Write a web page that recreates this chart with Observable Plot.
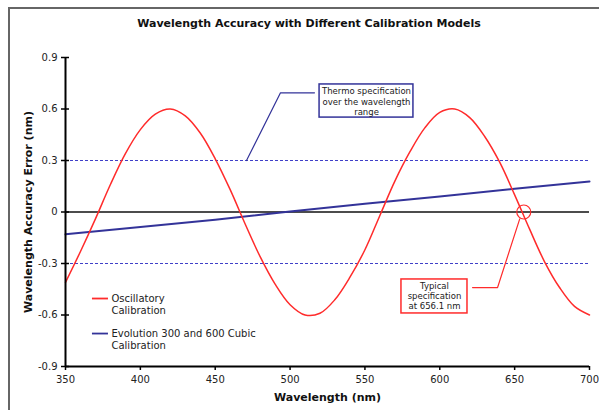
<!DOCTYPE html>
<html>
<head>
<meta charset="utf-8">
<script src="https://cdn.jsdelivr.net/npm/d3@7"></script>
<script src="https://cdn.jsdelivr.net/npm/@observablehq/plot@0.6"></script>
<style>
  html, body { margin: 0; padding: 0; background: #fff; }
  #wrap { position: relative; width: 599px; height: 410px; overflow: hidden; }
  #frame { position: absolute; left: 8px; top: 7px; width: 620px; height: 420px;
           border-top: 2px solid #666; border-left: 2px solid #666; pointer-events: none; }
</style>
</head>
<body>
<div id="wrap"><div id="chart"></div><div id="frame"></div></div>
<script>
// ---- data ----
const wavelengths = [350,360,370,380,390,400,410,420,430,440,450,460,470,480,490,500,510,520,530,540,550,560,570,580,590,600,610,620,630,640,650,660,670,680,690,700];
const oscillatory = [-0.41,-0.23,-0.04,0.16,0.34,0.48,0.57,0.60,0.56,0.46,0.31,0.13,-0.07,-0.26,-0.42,-0.54,-0.60,-0.59,-0.51,-0.38,-0.22,-0.02,0.18,0.35,0.49,0.58,0.60,0.55,0.44,0.29,0.10,-0.10,-0.29,-0.44,-0.55,-0.60];
const cubicWavelengths = [350,400,450,500,550,600,650,700];
const cubicErrors = [-0.13,-0.088,-0.045,0.003,0.048,0.09,0.135,0.178];
const specLimits = [-0.3, 0.3];
const xTicks = [350,400,450,500,550,600,650,700];
const yTicks = [-0.9,-0.6,-0.3,0,0.3,0.6,0.9];
const typicalPoint = [{x: 656.1, y: 0}];
const seriesNames = ["Oscillatory\nCalibration", "Evolution 300 and 600 Cubic\nCalibration"];
const thermoNote = "Thermo specification\nover the wavelength\nrange";
const typicalNote = "Typical\nspecification\nat 656.1 nm";
const title = "Wavelength Accuracy with Different Calibration Models";
const xLabel = "Wavelength (nm)";
const yLabel = "Wavelength Accuracy Error (nm)";

// ---- build tables ----
const oscData = wavelengths.map((x, i) => ({x, y: oscillatory[i]}));
const cubicData = cubicWavelengths.map((x, i) => ({x, y: cubicErrors[i]}));

const RED = "#ff2b2b";
const BLUE = "#333399";
const DASH = "#4040c8";
const font = "DejaVu Sans, Verdana, sans-serif";

// annotation placement (data units)
const thermoBox = [{x1: 519.7, x2: 582.4, y1: 0.55, y2: 0.743}];
const thermoLeader = [{x: 516.3, y: 0.6944}, {x: 493.6, y: 0.6944}, {x: 470.9, y: 0.3}];
const typicalBox = [{x1: 574.4, x2: 618.5, y1: -0.591, y2: -0.393}];
const typicalLeader = [{x: 621.9, y: -0.44}, {x: 638.6, y: -0.44}, {x: 653.4, y: -0.04}];
const legendRows = [
  {x1: 368.0, x2: 378.7, y: -0.504, ty: -0.539, color: RED, name: seriesNames[0]},
  {x1: 368.0, x2: 378.7, y: -0.708, ty: -0.743, color: BLUE, name: seriesNames[1]}
];

const chart = Plot.plot({
  width: 599,
  height: 410,
  marginLeft: 65,
  marginRight: 10,
  marginTop: 57,
  marginBottom: 44,
  style: {fontFamily: font, fontSize: "10px", color: "#222", background: "transparent", overflow: "visible"},
  x: {domain: [350, 700]},
  y: {domain: [-0.9, 0.9]},
  marks: [
    Plot.ruleY(specLimits, {stroke: DASH, strokeWidth: 1, strokeDasharray: "3,2"}),
    Plot.ruleY([0], {stroke: "#111", strokeWidth: 1.5}),
    Plot.line(cubicData, {x: "x", y: "y", stroke: BLUE, strokeWidth: 2}),
    Plot.line(oscData, {x: "x", y: "y", stroke: RED, strokeWidth: 1.5, curve: "catmull-rom"}),
    Plot.dot(typicalPoint, {x: "x", y: "y", r: 7, stroke: RED, fill: "none", strokeWidth: 1.2}),
    // annotations
    Plot.line(thermoLeader, {x: "x", y: "y", stroke: BLUE, strokeWidth: 1.2}),
    Plot.rect(thermoBox, {x1: "x1", x2: "x2", y1: "y1", y2: "y2", fill: "white", stroke: BLUE, strokeWidth: 1.5}),
    Plot.text([thermoNote], {x: (thermoBox[0].x1 + thermoBox[0].x2) / 2, y: 0.645, text: d => d,
      fontSize: 8.5, lineHeight: 1.24, fill: "#222", textAnchor: "middle"}),
    Plot.line(typicalLeader, {x: "x", y: "y", stroke: RED, strokeWidth: 1.2}),
    Plot.rect(typicalBox, {x1: "x1", x2: "x2", y1: "y1", y2: "y2", fill: "white", stroke: RED, strokeWidth: 1.5}),
    Plot.text([typicalNote], {x: (typicalBox[0].x1 + typicalBox[0].x2) / 2, y: -0.488, text: d => d,
      fontSize: 8.5, lineHeight: 1.2, fill: "#222", textAnchor: "middle"}),
    // legend
    Plot.ruleY(legendRows, {x1: "x1", x2: "x2", y: "y", stroke: "color", strokeWidth: 1.8}),
    Plot.text(legendRows, {x: 380.7, y: "ty", text: "name", textAnchor: "start", fontSize: 10, lineHeight: 1.2, fill: "#222"}),
    // axes
    Plot.ruleX([350], {stroke: "#000", strokeWidth: 2}),
    Plot.ruleY([-0.9], {stroke: "#000", strokeWidth: 2}),
    Plot.ruleY(yTicks, {y: d => d, x1: 350, x2: 350, insetLeft: -4, insetRight: -4, stroke: "#000", strokeWidth: 1.5}),
    Plot.axisY(yTicks, {tickSize: 0, tickPadding: 8, label: null, fontSize: 10, fill: "#222",
      tickFormat: d => d === 0 ? "0" : d.toFixed(1)}),
    Plot.axisX(xTicks, {tickSize: 4, tickPadding: 5, label: null, fontSize: 10, fill: "#222", stroke: "#000", strokeWidth: 1.5,
      tickFormat: d => String(d)}),
    // titles
    Plot.text([title], {frameAnchor: "top", dx: -18.5, dy: -31, text: d => d, fontSize: 11, fontWeight: "bold", fill: "#111", lineAnchor: "bottom"}),
    Plot.text([xLabel], {frameAnchor: "bottom", dy: 31, text: d => d, fontSize: 11, fontWeight: "bold", fill: "#111", lineAnchor: "middle"}),
    Plot.text([yLabel], {frameAnchor: "left", dx: -37, rotate: -90, text: d => d, fontSize: 11, fontWeight: "bold", fill: "#111", lineAnchor: "middle", textAnchor: "middle"})
  ]
});
document.getElementById("chart").appendChild(chart);
</script>
</body>
</html>
